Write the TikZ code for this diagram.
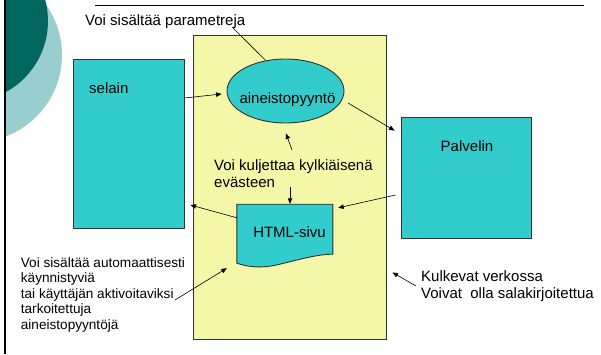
\documentclass[tikz,border=0pt]{standalone}
\usepackage{fontspec}
\setmainfont{Liberation Sans}
\usetikzlibrary{shapes.geometric,arrows.meta,calc}
\definecolor{boxcyan}{RGB}{51,204,204}
\definecolor{areayellow}{RGB}{244,247,168}
\definecolor{darkteal}{RGB}{0,102,94}
\definecolor{lightteal}{RGB}{153,206,206}
\definecolor{edgegray}{RGB}{50,50,50}
\begin{document}
\begin{tikzpicture}[x=1pt,y=-1pt,
  conn/.style={draw=black,line width=0.6pt,-{Triangle[length=5.5pt,width=4.5pt]}},
  plainline/.style={draw=black,line width=0.6pt},
  cbox/.style={draw=edgegray,line width=0.9pt,fill=boxcyan,inner sep=0pt,rectangle},
  lbl/.style={inner sep=0pt,font=\fontsize{15}{18}\selectfont},
]
\useasboundingbox (0,0) rectangle (601,354);
\fill[white] (0,0) rectangle (601,354);
% corner decoration
\begin{scope}
  \clip (5,0) rectangle (120,354);
  \fill[lightteal] (-25,55) circle[radius=87pt];
  \fill[darkteal] (-33,21) circle[radius=81pt];
\end{scope}
\fill[black] (3.5,0) rectangle (6,354);
\draw[line width=1pt] (95,5) -- (584,5);

% main area
\node[draw=edgegray,fill=areayellow,line width=0.9pt,minimum width=193pt,minimum height=304pt,inner sep=0pt] (area) at (289.5,187) {};

% boxes
\node[cbox,minimum width=111pt,minimum height=169pt] (selain) at (128.5,143.5) {};
\node[lbl,anchor=base west] (tselain) at (89,93) {selain};

\node[ellipse,draw=edgegray,fill=boxcyan,line width=0.9pt,minimum width=117pt,minimum height=64pt,inner sep=0pt] (ell) at (285.5,91) {};
\node[lbl,anchor=base] (tell) at (287.5,103) {aineistopyyntö};

\node[cbox,minimum width=130pt,minimum height=121pt] (palv) at (466,177.5) {};
\node[lbl,anchor=base] (tpalv) at (467,151) {Palvelin};

\node[inner sep=0pt,minimum width=96pt,minimum height=59pt] (html) at (285,233.5) {};
\begin{scope}[shift={(html.south west)}]
  \draw[edgegray,line width=0.9pt,fill=boxcyan] (0,0) -- (0,-59) -- (96,-59) -- (96,-9)
    .. controls (80,-9) and (60,-3) .. (43,1)
    .. controls (33,3.5) and (18,6) .. (0,0) -- cycle;
\end{scope}
\node[lbl,anchor=base] (thtml) at (289.5,237.3) {HTML-sivu};

% texts (multi-line nodes: base anchor is the last line's baseline)
\node[lbl,anchor=base west] (ttitle) at (85,25) {Voi sisältää parametreja};
\node[lbl,anchor=base west,align=left,font=\fontsize{15}{17.7}\selectfont] (tkul) at (214,187.7) {Voi kuljettaa kylkiäisenä\\evästeen};
\node[anchor=base west,align=left,inner sep=0pt,font=\fontsize{13.6}{15.5}\selectfont] (tleft) at (20.7,329) {Voi sisältää automaattisesti\\käynnistyviä\\tai käyttäjän aktivoitaviksi\\tarkoitettuja\\aineistopyyntöjä};
\node[lbl,anchor=base west,align=left,font=\fontsize{15}{16.7}\selectfont] (tright) at (421,298.3) {Kulkevat verkossa\\Voivat\ \ olla salakirjoitettua};

% connectors
\draw[plainline] ($(ttitle.base west)+(147,2)$) -- (ell.123);
\draw[conn] ($(selain.east)+(0,-45.5)$) -- ($(ell.west)+(-5,3)$);
\draw[conn] ($(ell.center)+(62.5,12)$) -- ($(palv.north west)+(-6,14)$);
\draw[conn] ($(palv.west)+(-5,17.5)$) -- ($(html.north east)+(5,4)$);
\draw[conn] ($(html.north west)+(0,14)$) -- ($(selain.east)+(6,61.5)$);
\draw[conn] ($(tkul.base west)+(78,-37.7)$) -- ($(ell.south)+(0.5,10)$);
\draw[conn] ($(tkul.base west)+(76,-0.7)$) -- ($(html.north)+(5,0)$);
\draw[conn] ($(tleft.base west)+(154.3,-29)$) -- ($(html.south west)+(-10,5)$);
\draw[conn] ($(tright.base west)+(-5,-12.3)$) -- ($(area.south east)+(6,-67)$);
\end{tikzpicture}
\end{document}
